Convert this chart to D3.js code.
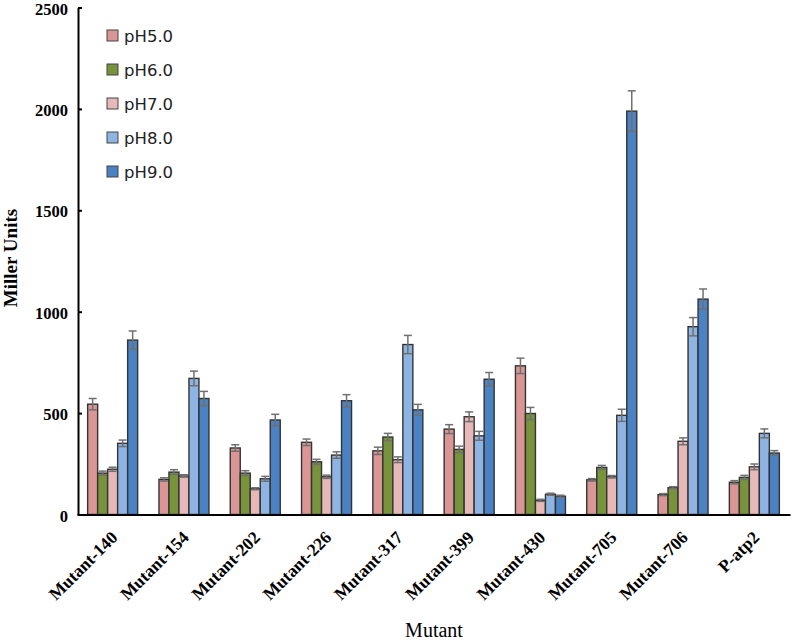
<!DOCTYPE html>
<html><head><meta charset="utf-8">
<script src="https://cdn.jsdelivr.net/npm/d3@7"></script>
<style>body{margin:0;background:#fff;}</style>
</head><body>
<svg id="chart" width="792" height="640"></svg>
<script>
const categories = ["Mutant-140","Mutant-154","Mutant-202","Mutant-226","Mutant-317","Mutant-399","Mutant-430","Mutant-705","Mutant-706","P-atp2"];
const seriesNames = ["pH5.0","pH6.0","pH7.0","pH8.0","pH9.0"];
const pH5 = [544, 173, 328, 356, 314, 421, 733, 171, 98, 159];
const pH6 = [204, 209, 204, 260, 382, 321, 498, 232, 132, 183];
const pH7 = [223, 190, 127, 186, 270, 482, 70, 186, 361, 235];
const pH8 = [351, 671, 176, 293, 838, 388, 100, 489, 926, 400];
const pH9 = [860, 572, 466, 561, 516, 667, 90, 1989, 1062, 303];
const err5 = [28, 8, 16, 16, 18, 22, 38, 6, 5, 8];
const err6 = [10, 12, 12, 12, 18, 16, 30, 10, 5, 10];
const err7 = [10, 6, 5, 8, 14, 24, 5, 6, 17, 14];
const err8 = [16, 36, 12, 16, 45, 22, 5, 30, 45, 22];
const err9 = [45, 35, 28, 30, 27, 33, 5, 100, 50, 12];
const yTicks = [0, 500, 1000, 1500, 2000, 2500];
const colors = ["#D99694","#77933C","#E6B9B8","#8EB4E3","#4A82C4"];

const values = [pH5, pH6, pH7, pH8, pH9];
const errs = [err5, err6, err7, err8, err9];

const svg = d3.select("#chart");
const x0 = d3.scaleBand().domain(categories).range([77, 790]).paddingInner(0).paddingOuter(0);
const x1 = d3.scaleBand().domain(seriesNames).range([0, 50]);
const groupOffset = (x0.bandwidth() - 50) / 2;
const y = d3.scaleLinear().domain([0, 2500]).range([514.5, 7.5]);

// bars
seriesNames.forEach((s, si) => {
  const g = svg.append("g");
  categories.forEach((c, ci) => {
    const v = values[si][ci];
    const bx = x0(c) + groupOffset + x1(s);
    g.append("rect")
      .attr("x", bx).attr("y", y(v))
      .attr("width", x1.bandwidth()).attr("height", y(0) - y(v))
      .attr("fill", colors[si]).attr("stroke", "#333").attr("stroke-width", 1.4);
  });
});
// error bars
seriesNames.forEach((s, si) => {
  categories.forEach((c, ci) => {
    const v = values[si][ci], e = errs[si][ci];
    const cx = x0(c) + groupOffset + x1(s) + x1.bandwidth() / 2;
    const g = svg.append("g").attr("stroke", "#707070").attr("stroke-width", 1.5);
    g.append("line").attr("x1", cx).attr("x2", cx).attr("y1", y(v - e)).attr("y2", y(v + e));
    g.append("line").attr("x1", cx - 4).attr("x2", cx + 4).attr("y1", y(v + e)).attr("y2", y(v + e));
    g.append("line").attr("x1", cx - 4).attr("x2", cx + 4).attr("y1", y(v - e)).attr("y2", y(v - e));
  });
});

// y axis
const yAxis = d3.axisLeft(y).tickValues(yTicks).tickFormat(d3.format("d"))
  .tickSize(-4).tickPadding(10).tickSizeOuter(0);
const ya = svg.append("g").attr("transform", "translate(78,0)").call(yAxis);
ya.select(".domain").attr("stroke", "#000").attr("stroke-width", 2);
ya.selectAll(".tick line").attr("stroke", "#000").attr("stroke-width", 2);
ya.selectAll("text").attr("font-family", "Liberation Serif, Times New Roman, serif")
  .attr("font-weight", "bold").attr("font-size", "16.5px").attr("fill", "#000")
  .attr("dy", "0.4em");

// x axis
const xAxis = d3.axisBottom(x0).tickSize(0).tickSizeOuter(0).tickPadding(0);
const xa = svg.append("g").attr("transform", "translate(0,514.5)").call(xAxis);
xa.select(".domain").attr("stroke", "#000").attr("stroke-width", 2);
xa.selectAll("text")
  .attr("font-family", "Liberation Serif, Times New Roman, serif")
  .attr("font-weight", "bold").attr("font-size", "17.5px").attr("fill", "#000")
  .attr("text-anchor", "end").attr("dy", null).attr("y", 0)
  .attr("transform", "translate(6,24) rotate(-45)");

// axis titles
svg.append("text").attr("transform", "translate(17,258) rotate(-90)")
  .attr("text-anchor", "middle").attr("font-family", "Liberation Serif, Times New Roman, serif")
  .attr("font-weight", "bold").attr("font-size", "19px").text("Miller Units");
svg.append("text").attr("x", 434).attr("y", 637).attr("text-anchor", "middle")
  .attr("font-family", "Liberation Serif, Times New Roman, serif")
  .attr("font-size", "20px").text("Mutant");

// legend
const leg = svg.append("g");
seriesNames.forEach((s, i) => {
  const ly = 35.5 + i * 34;
  leg.append("rect").attr("x", 107).attr("y", ly - 5.5).attr("width", 11).attr("height", 11)
    .attr("fill", colors[i]).attr("stroke", "#444").attr("stroke-width", 1);
  leg.append("text").attr("x", 124).attr("y", ly + 6.5)
    .attr("font-family", "DejaVu Sans, Verdana, sans-serif").attr("font-size", "16.5px")
    .attr("fill", "#222").text(s);
});
</script>
</body></html>
